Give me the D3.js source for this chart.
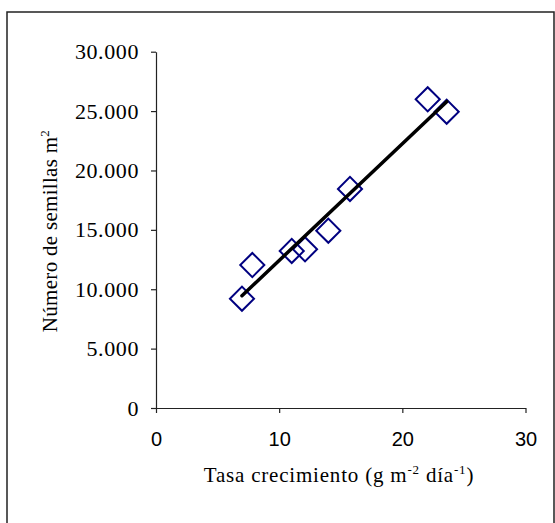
<!DOCTYPE html>
<html>
<head>
<meta charset="utf-8">
<script src="https://cdn.jsdelivr.net/npm/d3@7"></script>
<style>
  html, body { margin: 0; padding: 0; background: #fff; }
  svg { display: block; }
</style>
</head>
<body>
<script>
// Data
const tasaCrecimiento = [6.98, 7.82, 11.02, 12.10, 13.99, 15.75, 22.06, 23.60];
const numeroSemillas  = [9200, 12040, 13220, 13360, 14930, 18440, 25990, 24950];
const xTicks = [0, 10, 20, 30];
const yTicks = [0, 5000, 10000, 15000, 20000, 25000, 30000];
const xTitle = ["Tasa crecimiento (g m", "-2", " día", "-1", ")"];
const yTitle = ["Número de semillas m", "2"];

const W = 555, H = 523;
const svg = d3.select("body").append("svg").attr("width", W).attr("height", H);

// outer frame
svg.append("path")
  .attr("d", `M7,${H + 2}V12H554V${H + 2}`)
  .attr("fill", "none").attr("stroke", "#222").attr("stroke-width", 1.5);

const x = d3.scaleLinear().domain([0, 30]).range([156, 525.5]);
const y = d3.scaleLinear().domain([0, 30000]).range([408, 51.7]);

const loc = d3.formatLocale({ decimal: ",", thousands: ".", grouping: [3], currency: ["", ""] });
const fmt = loc.format(",");

// y axis
const gy = svg.append("g").attr("transform", `translate(${x(0)},0)`)
  .call(d3.axisLeft(y).tickValues(yTicks).tickFormat(fmt).tickSize(5).tickPadding(12).tickSizeOuter(0));
gy.selectAll("text").attr("font-family", "'Liberation Serif', 'Times New Roman', serif")
  .attr("font-size", 22).attr("letter-spacing", 0.6).attr("fill", "#000");

// x axis
const gx = svg.append("g").attr("transform", `translate(0,${y(0)})`)
  .call(d3.axisBottom(x).tickValues(xTicks).tickSize(5).tickPadding(19).tickSizeOuter(0));
gx.selectAll("text").attr("font-family", "'Liberation Sans', Arial, sans-serif")
  .attr("font-size", 20).attr("fill", "#000");

[gx, gy].forEach(g => {
  g.selectAll("path.domain").attr("stroke", "#222").attr("stroke-width", 1.2);
  g.selectAll(".tick line").attr("stroke", "#222").attr("stroke-width", 1.2);
});

// regression line from data
const pts = tasaCrecimiento.map((v, i) => [v, numeroSemillas[i]]);
const mx = d3.mean(tasaCrecimiento), my = d3.mean(numeroSemillas);
const sxy = d3.sum(pts, p => (p[0] - mx) * (p[1] - my));
const sxx = d3.sum(pts, p => (p[0] - mx) * (p[0] - mx));
const slope = sxy / sxx, icpt = my - slope * mx;
const [x0, x1] = d3.extent(tasaCrecimiento);

// markers
svg.append("g").selectAll("path").data(pts).join("path")
  .attr("d", d3.symbol(d3.symbolSquare, 290))
  .attr("transform", d => `translate(${x(d[0])},${y(d[1])}) rotate(45)`)
  .attr("fill", "none").attr("stroke", "#000080").attr("stroke-width", 2);

svg.append("line")
  .attr("x1", x(x0)).attr("y1", y(slope * x0 + icpt))
  .attr("x2", x(x1)).attr("y2", y(slope * x1 + icpt))
  .attr("stroke", "#000").attr("stroke-width", 3.5).attr("stroke-linecap", "round");

// x title
const xt = svg.append("text")
  .attr("x", 339).attr("y", 482).attr("text-anchor", "middle")
  .attr("font-family", "'Liberation Serif', 'Times New Roman', serif").attr("font-size", 21)
  .attr("letter-spacing", 0.8).attr("fill", "#000");
xt.append("tspan").text(xTitle[0]);
xt.append("tspan").attr("font-size", 13).attr("dy", -8).text(xTitle[1]);
xt.append("tspan").attr("dy", 8).text(xTitle[2]);
xt.append("tspan").attr("font-size", 13).attr("dy", -8).text(xTitle[3]);
xt.append("tspan").attr("dy", 8).text(xTitle[4]);

// y title
const yt = svg.append("text")
  .attr("transform", "translate(57,231) rotate(-90)").attr("text-anchor", "middle")
  .attr("font-family", "'Liberation Serif', 'Times New Roman', serif").attr("font-size", 21)
  .attr("letter-spacing", 0.3).attr("fill", "#000");
yt.append("tspan").text(yTitle[0]);
yt.append("tspan").attr("font-size", 13).attr("dy", -8).text(yTitle[1]);
</script>
</body>
</html>
